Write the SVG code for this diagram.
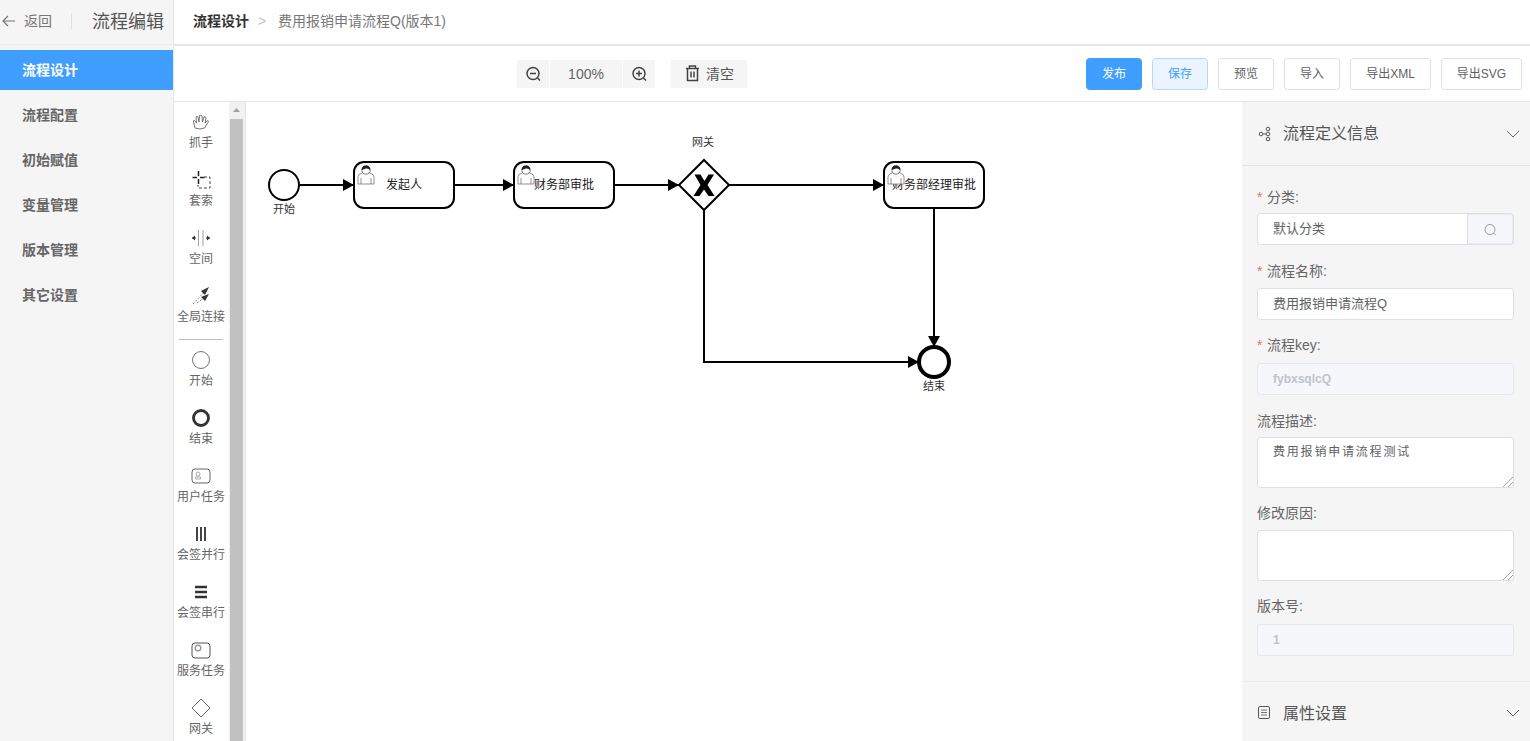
<svg xmlns="http://www.w3.org/2000/svg" width="1530" height="741" viewBox="0 0 1530 741">
<style>
text{font-family:"Liberation Sans","Noto Sans CJK SC",sans-serif;fill:#606266}
.m{text-anchor:middle}
.nav{font-size:14px;font-weight:700;fill:#666}
.pal{font-size:12px;text-anchor:middle;fill:#666}
.lab{font-size:14px;fill:#666}
.val{font-size:13px;fill:#606266}
.dis{font-size:12px;fill:#c0c4cc}
.req{font-size:14px;fill:#f56c6c}
.btn{fill:#fff;stroke:#dcdfe6}
.btxt{font-size:12px;text-anchor:middle;fill:#606266}
.inp{fill:#fff;stroke:#dcdfe6}
.dinp{fill:#f5f7fa;stroke:#e4e7ed}
.tb{fill:#f5f5f5}
.ic{fill:none;stroke:#444;stroke-width:1.5}
.task{fill:#fff;stroke:#000;stroke-width:2}
.tl{font-size:12px;text-anchor:middle;fill:#222}
.sm{font-size:11px;text-anchor:middle;fill:#333}
.flow{fill:none;stroke:#000;stroke-width:2;marker-end:url(#arr)}
.usr{fill:#fff;stroke:#777;stroke-width:.8}
.hd{fill:#222;stroke:none}
</style>
<defs>
<marker id="arr" markerUnits="userSpaceOnUse" markerWidth="13" markerHeight="13" refX="11" refY="6.500" orient="auto"><path d="M0 .5L11 6.500L0 12.500Z" fill="#000"/></marker>
<g id="user"><path class="usr" d="M1 19V12Q1 9 5 8L7 7H11L13 8Q17 9 17 12V19Z"/><path class="usr" d="M4 19V13M14 19V13"/><circle cx="9" cy="5" r="4.200" fill="#fff" stroke="#555" stroke-width=".8"/><path class="hd" d="M4.800 5Q4.500 .5 9 .5Q13.500 .5 13.200 5Q11 3 9 3.500Q7 4 4.800 5Z"/></g>
<path id="chev" d="M0 0L6 6L12 0" fill="none" stroke="#666" stroke-width="1"/>
<path id="grip" d="M0 10L10 0M5 10L10 5" fill="none" stroke="#888" stroke-width=".8"/>
</defs>
<rect width="1530" height="741" fill="#fff"/>

<g id="sidebar">
<rect width="173" height="741" fill="#f5f5f5"/>
<rect x="173" y="0" width="1" height="741" fill="#e6e6e6"/>
<rect y="44" width="173" height="1" fill="#eaeaea"/>
<path d="M15 21H3M8 16L3 21L8 26" fill="none" stroke="#777" stroke-width="1.200"/>
<text x="24" y="26" font-size="14" style="fill:#777">返回</text>
<rect x="71" y="13" width="1" height="16" fill="#e0e0e0"/>
<text x="92" y="28" font-size="18" style="fill:#555">流程编辑</text>
<rect y="50" width="173" height="40" fill="#409eff"/>
<text x="22" y="75" class="nav" style="fill:#fff">流程设计</text>
<text x="22" y="120" class="nav">流程配置</text>
<text x="22" y="165" class="nav">初始赋值</text>
<text x="22" y="210" class="nav">变量管理</text>
<text x="22" y="255" class="nav">版本管理</text>
<text x="22" y="300" class="nav">其它设置</text>
</g>

<g id="header">
<text x="193" y="26" font-size="14" font-weight="700" style="fill:#333">流程设计</text>
<text x="258" y="26" font-size="14" style="fill:#c0c4cc">&gt;</text>
<text x="278" y="26" font-size="14" style="fill:#777">费用报销申请流程Q(版本1)</text>
<rect x="174" y="44" width="1356" height="2" fill="#e6e6e6"/>
<rect x="174" y="101" width="1356" height="1" fill="#e6e6e6"/>
</g>

<g id="zoom-tools">
<rect class="tb" x="517" y="60" width="32" height="28"/>
<rect class="tb" x="550" y="60" width="72" height="28"/>
<rect class="tb" x="623" y="60" width="32" height="28"/>
<rect class="tb" x="671" y="60" width="76" height="28"/>
<circle class="ic" cx="533" cy="73.500" r="6"/><path class="ic" d="M530 73.500H536M537.500 78L540 80.500"/>
<text x="586" y="79" class="m" font-size="14" style="fill:#666">100%</text>
<circle class="ic" cx="639" cy="73.500" r="6"/><path class="ic" d="M636 73.500H642M639 70.500V76.500M643.500 78L646 80.500"/>
<path class="ic" d="M686 68.500H699M689.500 68.500V66H695.500V68.500M687.500 68.500V80.500H697.500V68.500M691 71.500V77.500M694 71.500V77.500"/>
<text x="706" y="79" font-size="14" style="fill:#555">清空</text>
</g>

<g id="actions">
<rect x="1086.500" y="58.500" width="55" height="31" rx="3" fill="#409eff" stroke="#409eff"/>
<text x="1114" y="78" class="btxt" style="fill:#fff">发布</text>
<rect x="1152.500" y="58.500" width="55" height="31" rx="3" fill="#ecf5ff" stroke="#b3d8ff"/>
<text x="1180" y="78" class="btxt" style="fill:#409eff">保存</text>
<rect class="btn" x="1218.500" y="58.500" width="55" height="31" rx="3"/>
<text x="1246" y="78" class="btxt">预览</text>
<rect class="btn" x="1284.500" y="58.500" width="55" height="31" rx="3"/>
<text x="1312" y="78" class="btxt">导入</text>
<rect class="btn" x="1350.500" y="58.500" width="80" height="31" rx="3"/>
<text x="1390.500" y="78" class="btxt">导出XML</text>
<rect class="btn" x="1441.500" y="58.500" width="80" height="31" rx="3"/>
<text x="1481.500" y="78" class="btxt">导出SVG</text>
</g>

<g id="palette">
<rect x="229" y="102" width="16" height="639" fill="#f1f1f1"/>
<rect x="230" y="119" width="13" height="622" fill="#c1c1c1"/>
<path d="M233 112L236.500 108L240 112Z" fill="#a0a0a0"/>
<rect x="245" y="102" width="1" height="639" fill="#e6e6e6"/>
<path d="M195 128L193.500 122Q193 120 194.500 120.500L196.500 123L196 117Q196.500 115.500 198 117L199 122L199.500 115.500Q201 114.500 202 116L202.500 122L204 117Q205.500 116 206 118L205 123L207.500 120.500Q209 120.500 208 122.500L204.500 128Q200 130 195 128Z" fill="none" stroke="#666" stroke-width=".9"/>
<text x="201" y="147" class="pal">抓手</text>
<path d="M198.500 171V176M198.500 179V184M192.500 177.500H197M200 177.500H204.500" stroke="#222" stroke-width="1.500" fill="none"/>
<path d="M204 177H210V188H198V185" fill="none" stroke="#444" stroke-width="1" stroke-dasharray="3 2"/>
<text x="201" y="205" class="pal">套索</text>
<path d="M198.500 230V246M203 230V246" stroke="#888" stroke-width=".8"/>
<path d="M192 238H196M206 238H210" stroke="#333"/><path d="M192 238L195 235.500V240.500ZM210 238L207 235.500V240.500Z" fill="#333"/>
<text x="201" y="263" class="pal">空间</text>
<path d="M193 304L208 288M197 303L208 295" stroke="#666" stroke-width=".8" stroke-dasharray="2 1.500" fill="none"/>
<path d="M209 287L201 291L205 295ZM209 294L201 297L205 301Z" fill="#333"/>
<text x="201" y="321" class="pal">全局连接</text>
<rect x="179" y="339" width="44" height="1" fill="#bbb"/>
<circle cx="201" cy="360" r="8.500" fill="none" stroke="#777" stroke-width="1"/>
<text x="201" y="385" class="pal">开始</text>
<circle cx="201" cy="418" r="7.500" fill="none" stroke="#333" stroke-width="2.800"/>
<text x="201" y="443" class="pal">结束</text>
<rect x="192" y="469" width="18" height="14" rx="3" fill="none" stroke="#666"/>
<circle cx="198" cy="474" r="2" fill="none" stroke="#999" stroke-width=".8"/><path d="M195.500 479V477H200.500V479Z" fill="none" stroke="#999" stroke-width=".8"/>
<text x="201" y="501" class="pal">用户任务</text>
<path d="M197 527V541M201 527V541M205 527V541" stroke="#444" stroke-width="2"/>
<text x="201" y="559" class="pal">会签并行</text>
<path d="M195 587H207M195 592H207M195 597H207" stroke="#333" stroke-width="2.500"/>
<text x="201" y="617" class="pal">会签串行</text>
<rect x="192" y="643" width="18" height="15" rx="3" fill="none" stroke="#555"/>
<circle cx="198" cy="648" r="2.800" fill="none" stroke="#999" stroke-width="1.400"/>
<text x="201" y="675" class="pal">服务任务</text>
<path d="M201 699L210 708L201 717L192 708Z" fill="none" stroke="#666"/>
<text x="201" y="733" class="pal">网关</text>
</g>

<g id="connectors">
<path class="flow" d="M300 185H354"/>
<path class="flow" d="M454 185H514"/>
<path class="flow" d="M614 185H679"/>
<path class="flow" d="M729 185H884"/>
<path class="flow" d="M934 208V347"/>
<path class="flow" d="M704 210V362H919"/>
</g>

<g id="start">
<circle cx="284" cy="185" r="15" fill="#fff" stroke="#000" stroke-width="2"/>
<text x="284" y="213" class="sm">开始</text>
</g>
<g id="task-initiator">
<rect class="task" x="354" y="162" width="100" height="46" rx="10"/>
<use href="#user" x="357" y="165"/>
<text x="404" y="189" class="tl">发起人</text>
</g>
<g id="task-finance">
<rect class="task" x="514" y="162" width="100" height="46" rx="10"/>
<use href="#user" x="517" y="165"/>
<text x="564" y="189" class="tl">财务部审批</text>
</g>
<g id="gateway">
<path d="M704 160L729 185L704 210L679 185Z" fill="#fff" stroke="#000" stroke-width="2"/>
<path d="M694.500 174.500H700.500L704.500 181L708.500 174.500H714L707.500 185L714.500 196H708.500L704 189.500L699.500 196H693.500L700.500 185Z" fill="#000"/>
<text x="703" y="146" class="sm">网关</text>
</g>
<g id="task-manager">
<rect class="task" x="884" y="162" width="100" height="46" rx="10"/>
<text x="934" y="189" class="tl">财务部经理审批</text>
<use href="#user" x="887" y="165"/>
</g>
<g id="end">
<circle cx="934" cy="362" r="15" fill="#fff" stroke="#000" stroke-width="4"/>
<text x="934" y="390" class="sm">结束</text>
</g>

<g id="properties">
<rect x="1242" y="102" width="288" height="639" fill="#f5f5f5"/>
<rect x="1242" y="165" width="288" height="1" fill="#e4e4e4"/>
<rect x="1242" y="681" width="288" height="1" fill="#ececec"/>
<circle cx="1268" cy="129" r="1.800" fill="none" stroke="#555"/>
<circle cx="1268" cy="134" r="1.800" fill="none" stroke="#555"/><circle cx="1261" cy="134" r="1.800" fill="none" stroke="#555"/><circle cx="1268" cy="139" r="1.800" fill="none" stroke="#555"/>
<path d="M1263 134H1266" stroke="#555"/>
<text x="1283" y="139" font-size="16" style="fill:#555">流程定义信息</text>
<use href="#chev" x="1507" y="131"/>

<text x="1257" y="202" class="req">*</text><text x="1267" y="202" class="lab">分类:</text>
<rect class="inp" x="1257.500" y="213.500" width="256" height="31" rx="3"/>
<path d="M1467.500 214H1511Q1513 214 1513 217V241Q1513 244 1511 244H1467.500Z" fill="#f5f7fa" stroke="#dcdfe6"/>
<circle cx="1490" cy="229.500" r="5" fill="none" stroke="#999"/><path d="M1493.500 233L1495.500 235" stroke="#999"/>
<text x="1273" y="233" class="val">默认分类</text>

<text x="1257" y="276" class="req">*</text><text x="1267" y="276" class="lab">流程名称:</text>
<rect class="inp" x="1257.500" y="288.500" width="256" height="31" rx="3"/>
<text x="1273" y="308" class="val">费用报销申请流程Q</text>

<text x="1257" y="350" class="req">*</text><text x="1267" y="350" class="lab">流程key:</text>
<rect class="dinp" x="1257.500" y="363.500" width="256" height="31" rx="3"/>
<text x="1273" y="383" class="dis" font-weight="700">fybxsqlcQ</text>

<text x="1257" y="426" class="lab">流程描述:</text>
<rect class="inp" x="1257.500" y="437.500" width="256" height="50" rx="3"/>
<text x="1273" y="456" font-size="12" letter-spacing="1.800" style="fill:#606266">费用报销申请流程测试</text>
<use href="#grip" x="1503" y="477"/>

<text x="1257" y="518" class="lab">修改原因:</text>
<rect class="inp" x="1257.500" y="530.500" width="256" height="50" rx="3"/>
<use href="#grip" x="1503" y="570"/>

<text x="1257" y="611" class="lab">版本号:</text>
<rect class="dinp" x="1257.500" y="624.500" width="256" height="31" rx="3"/>
<text x="1273" y="644" class="dis" font-weight="700">1</text>

<rect x="1258.500" y="706.500" width="11" height="12" rx="1.500" fill="none" stroke="#555"/>
<path d="M1261 710H1267M1261 712.500H1267M1261 715H1267" stroke="#555" stroke-width=".8"/>
<text x="1283" y="719" font-size="16" style="fill:#555">属性设置</text>
<use href="#chev" x="1507" y="710"/>
</g>
</svg>
